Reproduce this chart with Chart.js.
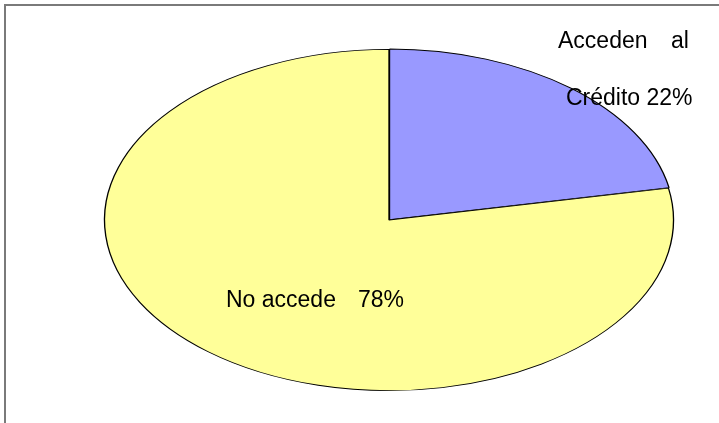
<!DOCTYPE html>
<html>
<head>
<meta charset="utf-8">
<script src="https://cdn.jsdelivr.net/npm/chart.js@4"></script>
<style>
  html, body { margin: 0; padding: 0; background: #fff; }
  #wrap { width: 719px; height: 423px; position: relative; }
</style>
</head>
<body>
<div id="wrap"><canvas id="pieChart" width="719" height="423"></canvas></div>
<script>
// Data
const categories = ['Acceden al Crédito', 'No accede'];
const values = [22, 78];
const sliceColors = ['#9999FF', '#FFFF99'];

// Squash the circle into an ellipse like the old spreadsheet chart
const ellipseRatio = 283.5 / 170;

const ellipsePlugin = {
    id: 'ellipse',
    beforeDraw(chart) {
        const c = chart.ctx;
        // frame (top and left edges only are visible)
        c.save();
        c.strokeStyle = '#7a7a7a';
        c.lineWidth = 2;
        c.beginPath();
        c.moveTo(5, 423);
        c.lineTo(5, 5);
        c.lineTo(719, 5);
        c.stroke();
        c.restore();
    },
    beforeDatasetsDraw(chart) {
        const arc = chart.getDatasetMeta(0).data[0];
        const c = chart.ctx;
        c.save();
        c.translate(arc.x, arc.y);
        c.scale(ellipseRatio, 1);
        c.translate(-arc.x, -arc.y);
    },
    afterDatasetsDraw(chart) {
        chart.ctx.restore();
    },
    afterDraw(chart) {
        const c = chart.ctx;
        c.save();
        c.fillStyle = '#000';
        c.font = '23px "Liberation Sans", Arial, sans-serif';
        c.textBaseline = 'alphabetic';
        c.fillText('Acceden', 558, 48);
        c.fillText('al', 671, 48);
        c.fillText('Crédito ' + values[0] + '%', 566, 105);
        c.fillText('No accede', 226, 307);
        c.fillText(values[1] + '%', 358, 307);
        c.restore();
    }
};

new Chart(document.getElementById('pieChart'), {
    type: 'pie',
    data: {
        labels: categories,
        datasets: [{
            data: values,
            backgroundColor: sliceColors,
            borderColor: '#000',
            borderWidth: 0.8,
            offset: [2, 0]
        }]
    },
    options: {
        responsive: false,
        animation: false,
        events: [],
        layout: {
            padding: { top: 48, bottom: 31, left: 105, right: 46 }
        },
        plugins: {
            legend: { display: false },
            tooltip: { enabled: false },
            title: { display: false }
        }
    },
    plugins: [ellipsePlugin]
});
</script>
</body>
</html>
